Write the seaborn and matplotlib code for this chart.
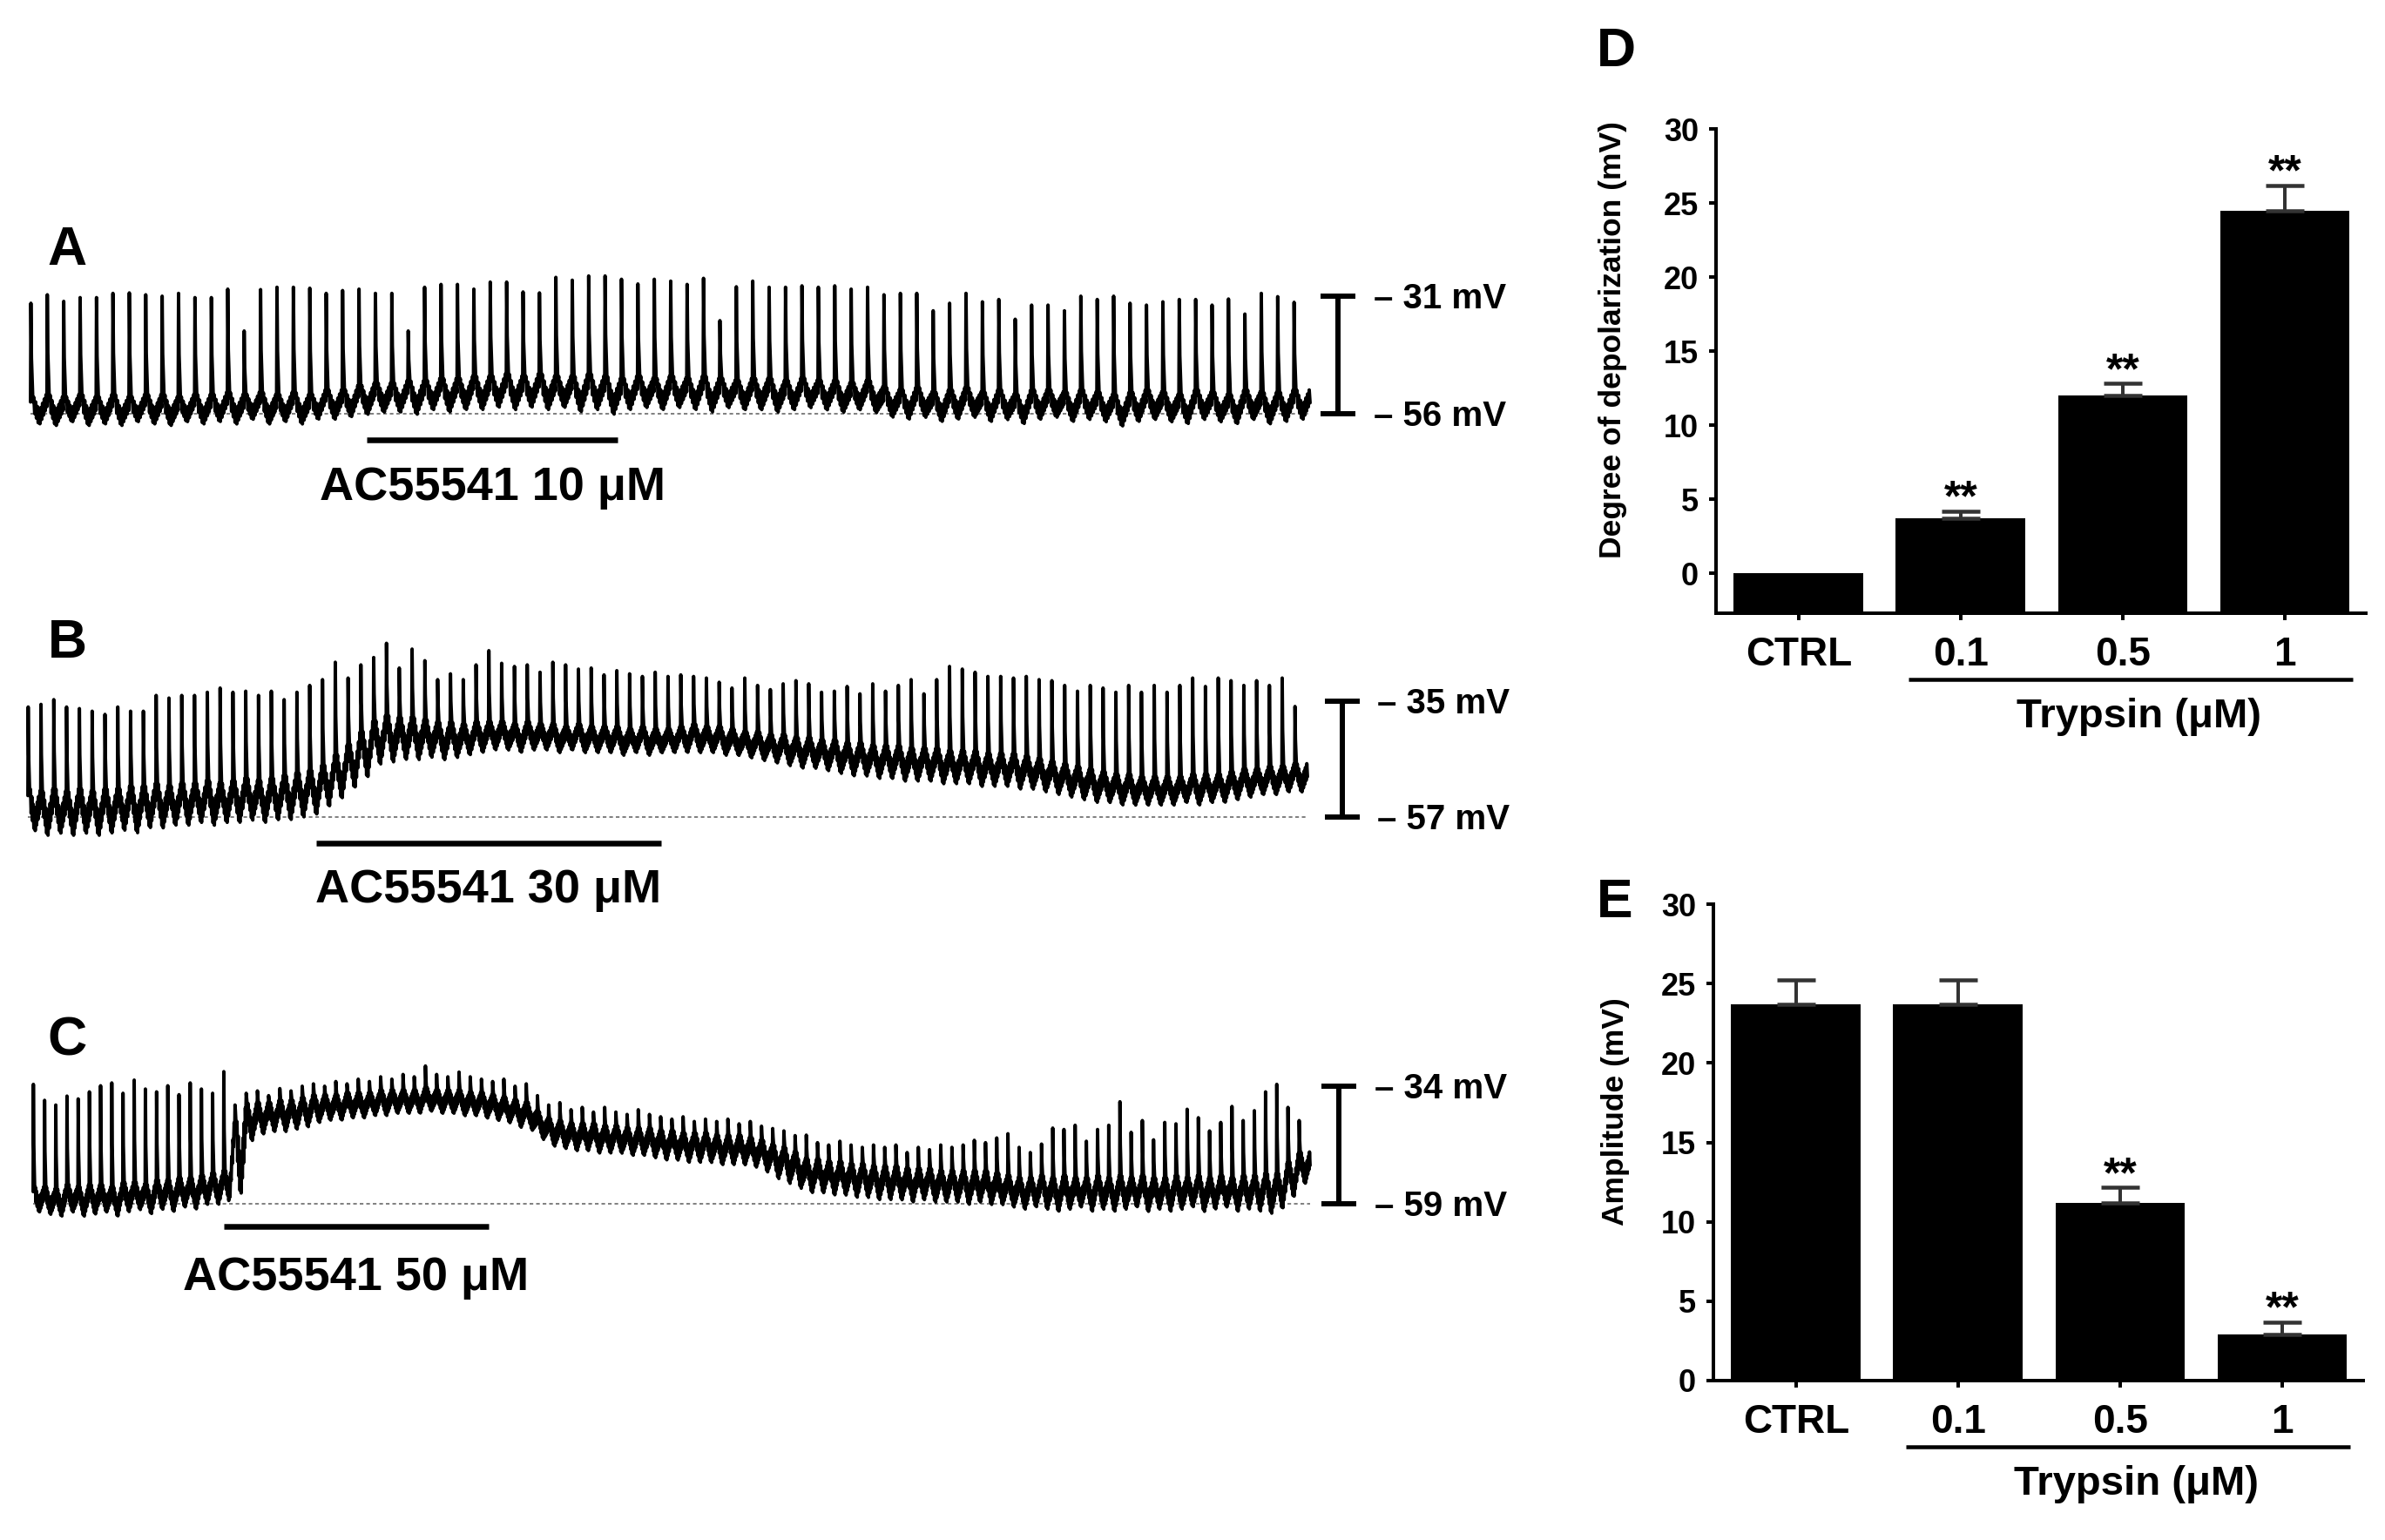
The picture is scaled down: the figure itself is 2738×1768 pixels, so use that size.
import numpy as np
import pandas as pd
import matplotlib
matplotlib.use("Agg")
import matplotlib.pyplot as plt
import seaborn as sns

# ======================= DATA =======================
# Membrane-potential traces, one value per slow-wave cycle (mV):
#   *_peak     : spike peak
#   *_shoulder : level at which the spike takes off / returns
#   *_trough   : most negative level between two spikes
A_peak = [-32.5, -30.7, -32.1, -31.3, -31.3, -30.4, -30.3, -30.7, -31.0, -30.4,
          -31.3, -31.3, -29.5, -38.4, -29.6, -29.1, -29.1, -29.3, -30.4, -29.8,
          -29.5, -30.4, -30.4, -38.4, -29.1, -28.5, -28.5, -29.5, -28.0, -28.0,
          -30.1, -30.3, -27.0, -27.6, -26.7, -26.7, -27.4, -28.4, -27.4, -27.8,
          -28.5, -27.2, -36.2, -29.0, -27.8, -29.1, -29.1, -28.8, -29.1, -28.8,
          -29.5, -29.1,
          -30.7, -30.4, -30.4, -34.1, -32.5, -30.4, -32.2, -31.7, -35.9, -32.9,
          -32.9, -34.1, -31.0, -31.7, -31.0, -32.5, -32.9, -32.2, -31.7, -31.7,
          -32.9, -31.6, -34.8, -30.4, -31.1, -32.3]
A_shoulder = [-52.0, -51.5, -52.0, -51.5, -52.0, -51.5, -52.0, -51.5, -51.5, -52.0,
              -51.5, -51.5, -51.0, -51.5, -51.0, -51.5, -51.0, -51.5, -50.5, -50.5,
              -49.5, -49.0, -49.0, -48.5, -48.5, -48.0, -48.0, -47.5, -47.5, -47.0,
              -47.5, -47.0, -47.5, -47.5, -47.0, -47.5, -48.0, -47.5, -48.0, -47.5,
              -48.0, -47.5, -48.0, -48.5, -48.0, -48.0, -48.5, -48.0, -48.5, -48.5,
              -49.0, -48.5,
              -50.0, -50.5, -50.0, -51.0, -50.5, -50.0, -51.0, -50.5, -51.5, -50.5,
              -50.5, -51.0, -50.5, -51.0, -51.5, -51.0, -50.5, -51.0, -51.5, -50.5,
              -51.0, -51.5, -50.5, -51.0, -51.0, -50.5]
A_trough = [-58.5, -58.8, -58.0, -58.8, -58.5, -58.8, -58.0, -58.5, -58.8, -58.0,
            -58.5, -58.0, -58.5, -57.5, -58.5, -58.0, -58.5, -57.5, -57.5, -57.0,
            -56.5, -56.0, -56.0, -56.5, -55.5, -56.0, -55.5, -55.5, -55.0, -55.5,
            -55.0, -55.5, -55.0, -56.0, -55.5, -56.5, -55.5, -55.0, -55.5, -55.0,
            -55.5, -56.0, -55.0, -55.5, -55.5, -56.0, -55.5, -55.0, -55.5, -56.0,
            -55.5, -56.0,
            -57.0, -57.5, -57.0, -58.0, -57.5, -57.0, -58.0, -57.5, -58.5, -57.5,
            -57.0, -58.0, -57.5, -58.0, -59.0, -58.0, -57.5, -58.0, -58.5, -57.5,
            -58.0, -58.5, -57.5, -58.5, -58.0, -57.5]
A_drug = [20.5, 35.8]          # application window (cycles)
A_scale = [-31, -56]           # scale-bar potentials (mV)
A_label = "AC55541 10 μM"

B_peak = [-36.1, -35.6, -34.7, -36.1, -36.4, -36.9, -37.5, -36.1, -36.9, -36.9,
          -33.9, -34.4, -33.9, -33.9, -33.3, -32.5, -33.3, -33.1, -33.9, -33.1,
          -34.7, -33.3, -32.0, -30.9, -27.6, -30.6, -28.1, -26.7, -24.0, -28.7,
          -25.1, -27.3, -30.9, -29.8, -30.9, -28.1, -25.4, -27.8, -28.4, -28.1,
          -29.5, -27.6, -28.1, -28.9, -28.7, -30.0, -29.2, -29.8, -30.3, -29.5,
          -30.3, -30.0, -30.3, -30.6, -31.4, -32.5, -30.6, -32.0, -32.8, -31.7,
          -31.1, -31.7, -33.3, -33.1, -32.2, -33.6, -31.7, -33.1, -32.0, -30.9,
          -33.6, -30.9, -28.4, -28.9, -29.5, -30.3, -30.3, -30.6, -30.3, -30.9,
          -31.1, -32.0, -33.1, -32.0, -32.5, -33.3, -32.0, -33.3, -32.0, -33.3,
          -32.0, -30.6, -32.2, -30.6, -31.1, -32.0, -31.1, -32.0, -30.6, -36.0]
B_shoulder = [-51.0, -51.5, -51.0, -51.5, -51.0, -51.5, -51.0, -51.0, -50.5, -50.5,
              -50.0, -50.5, -50.0, -50.0, -49.5, -50.0, -49.5, -49.0, -49.5, -49.0,
              -48.5, -48.0, -47.5, -46.5, -44.5, -42.5, -40.0, -38.0, -37.0, -37.5,
              -37.5, -38.0, -38.5, -38.5, -39.0, -38.5, -38.5, -38.5, -39.0, -38.5,
              -39.0, -39.0, -39.5, -39.0, -39.5, -39.5, -39.5, -40.0, -39.5, -40.0,
              -40.0, -39.5, -39.0, -39.5, -39.5, -40.0, -40.5, -40.5, -41.0, -41.0,
              -41.5, -41.5, -42.0, -42.0, -42.5, -42.5, -43.0, -43.0, -43.0, -43.5,
              -43.5, -43.5, -44.0, -44.0, -44.0, -44.5, -44.5, -44.5, -45.0, -45.5,
              -46.0, -46.5, -47.0, -47.5, -48.0, -48.5, -48.5, -49.0, -49.0, -49.0,
              -49.0, -48.5, -48.5, -48.5, -48.0, -47.5, -47.5, -47.0, -47.0, -46.5]
B_trough = [-60.0, -61.0, -60.5, -61.0, -60.5, -61.0, -60.5, -60.0, -60.5, -59.5,
            -59.5, -59.0, -59.0, -58.5, -59.0, -58.5, -58.5, -58.0, -58.5, -58.0,
            -58.0, -57.5, -57.0, -55.5, -54.0, -52.0, -50.0, -47.5, -47.0, -46.5,
            -46.5, -46.0, -46.5, -46.0, -45.5, -45.0, -44.5, -44.5, -45.0, -44.5,
            -44.5, -45.0, -44.5, -45.0, -45.0, -45.0, -45.5, -45.0, -45.5, -45.0,
            -45.0, -45.0, -45.0, -45.0, -45.5, -45.5, -46.0, -46.5, -47.0, -47.5,
            -48.0, -48.0, -48.5, -49.0, -49.5, -49.5, -50.0, -50.0, -50.5, -50.5,
            -50.5, -51.0, -51.0, -51.0, -51.5, -51.5, -51.5, -52.0, -52.0, -52.5,
            -53.0, -53.5, -54.0, -54.5, -54.5, -55.0, -55.0, -55.0, -55.0, -55.0,
            -54.5, -55.0, -54.5, -54.5, -54.0, -53.5, -53.0, -53.0, -52.5, -52.5]
B_drug = [22.5, 49.5]
B_scale = [-35, -57]
B_label = "AC55541 30 μM"

C_peak = [-33.6, -37.0, -38.0, -36.1, -36.7, -35.2, -33.9, -33.3, -35.5, -32.7,
          -34.6, -35.2, -33.9, -35.8, -33.3, -34.6, -35.5, -30.9,
          -38.0, -35.5, -35.0, -36.0, -34.5, -35.0, -34.0, -33.5, -34.0, -33.0, -33.5, -32.5,
          -33.0, -32.0, -32.5, -31.5, -32.0, -29.7, -31.5, -32.0, -31.0, -32.0,
          -32.5, -33.0, -32.5, -34.0, -33.5,
          -36.0, -38.0, -37.5, -39.0, -38.5, -39.5, -38.5, -39.5, -40.0, -39.0, -40.0, -40.5,
          -41.0, -40.5, -41.5, -41.0, -41.5, -41.0, -42.0, -41.5, -42.5, -43.0, -43.5, -44.5,
          -44.4, -46.0, -46.5, -45.7, -46.5, -47.0, -46.5, -47.0, -46.5, -48.1,
          -47.0, -47.5, -46.5, -47.0, -46.5, -45.5, -46.0, -45.0,
          -44.1, -47.0, -48.1, -46.3, -42.9, -43.2, -42.3, -45.7, -43.2, -42.3,
          -37.3, -43.8, -41.3, -45.4, -41.7, -42.0, -38.9, -40.7, -43.5, -41.7,
          -38.3, -41.3, -39.2, -35.2, -33.6, -38.5, -41.3]
C_shoulder = [-55.0, -55.0, -55.5, -54.5, -55.0, -54.5, -54.5, -55.0, -54.0, -54.0,
              -54.5, -53.5, -53.5, -53.0, -53.0, -52.5, -52.0, -51.5,
              -40.0, -37.0, -37.0, -37.0, -36.5, -36.5, -36.0, -35.5, -35.5, -35.5, -35.0, -35.0,
              -35.0, -34.5, -34.5, -34.5, -34.5, -34.0, -34.5, -34.5, -34.5, -35.0,
              -35.0, -35.5, -36.0, -36.5, -37.0,
              -39.0, -40.5, -41.0, -41.5, -41.5, -41.5, -42.0, -42.0, -42.5, -42.5, -42.5, -43.0,
              -43.0, -43.5, -43.5, -43.5, -44.0, -44.0, -44.0, -44.5, -45.0, -46.0, -46.5, -47.5,
              -49.0, -49.0, -49.5, -49.5, -50.0, -50.0, -50.5, -50.5, -50.5, -51.0,
              -51.0, -51.0, -51.5, -51.5, -51.5, -51.5, -51.5, -52.0,
              -52.5, -53.0, -53.0, -52.5, -53.0, -52.5, -53.0, -53.0, -52.5, -53.0,
              -52.5, -53.0, -52.5, -53.0, -53.0, -52.5, -53.0, -52.5, -53.0, -52.5,
              -53.0, -52.5, -52.5, -52.0, -52.0, -49.5, -47.5]
C_trough = [-61.0, -61.5, -62.0, -61.0, -62.0, -61.5, -61.0, -62.0, -61.0, -60.5,
            -61.5, -60.5, -61.0, -60.0, -60.5, -59.5, -59.5, -59.0,
            -58.0, -46.0, -44.5, -44.0, -44.0, -43.5, -43.0, -42.0, -41.5, -41.5, -41.0, -41.0,
            -40.5, -40.5, -40.0, -40.0, -40.0, -39.5, -40.0, -40.0, -40.5, -40.5,
            -41.0, -41.5, -42.0, -43.0, -43.5,
            -45.5, -47.0, -47.5, -48.0, -48.0, -48.5, -48.5, -48.5, -49.0, -49.0, -49.5, -50.0,
            -50.0, -50.5, -50.5, -50.5, -51.0, -51.0, -51.0, -51.5, -52.5, -54.0, -55.0, -56.0,
            -57.0, -57.0, -57.5, -57.5, -58.0, -58.0, -58.5, -58.5, -58.5, -59.0,
            -58.5, -59.0, -59.0, -59.0, -59.5, -59.0, -59.5, -59.5,
            -60.0, -60.5, -60.0, -60.5, -61.0, -60.5, -60.0, -61.0, -60.5, -61.0,
            -60.5, -60.0, -61.0, -60.5, -61.0, -60.5, -60.0, -61.0, -60.5, -60.0,
            -61.0, -60.5, -61.0, -61.5, -60.5, -58.0, -55.0]
C_drug = [17.0, 40.7]
C_scale = [-34, -59]
C_label = "AC55541 50 μM"

# Bar charts (mean and upper SEM, mV)
groups = ["CTRL", "0.1", "0.5", "1"]
D_mean = [0.0, 3.7, 12.0, 24.5]
D_sem = [0.0, 0.5, 0.8, 1.7]
D_sig = ["", "**", "**", "**"]
E_mean = [23.7, 23.7, 11.2, 2.9]
E_sem = [1.55, 1.55, 0.95, 0.8]
E_sig = ["", "", "**", "**"]
D_ylabel = "Degree of depolarization (mV)"
E_ylabel = "Amplitude (mV)"
group_title = "Trypsin (μM)"

# ======================= STYLE / LAYOUT =======================
sns.set_theme(style="white")
plt.rcParams["font.family"] = ["Liberation Sans", "DejaVu Sans"]
plt.rcParams["font.weight"] = "bold"
plt.rcParams["axes.labelweight"] = "bold"
for key in ("text.color", "axes.labelcolor", "xtick.color", "ytick.color", "axes.edgecolor"):
    plt.rcParams[key] = "black"

W, H, DPI = 2738, 1768, 100
PT = 72.0 / DPI           # points per pixel
fig = plt.figure(figsize=(W / DPI, H / DPI), dpi=DPI, facecolor="white")


def fx(px):
    return px / W


def fy(py):
    return 1.0 - py / H


def waveform(peak, shoulder, trough, m=16):
    """Render each cycle: fast spike, then a noisy V between shoulder and trough."""
    n = len(peak)
    t, v = [], []
    for k in range(n):
        p, s, tr = peak[k], shoulder[k], trough[k]
        s_next = shoulder[k + 1] if k + 1 < n else s
        a = 0.17 * (s - tr) + 0.4          # thickness of the noisy band
        t += [k, k + 0.025, k + 0.06, k + 0.15]
        v += [s - a, p, s + 0.4 * (p - s), s - a]
        for j in range(1, m + 1):
            u = j / m
            tt = k + 0.15 + 0.85 * u
            if u <= 0.45:
                c = (s - a) + ((tr + a) - (s - a)) * (u / 0.45)
            else:
                c = (tr + a) + ((s_next - a) - (tr + a)) * ((u - 0.45) / 0.55)
            t.append(tt)
            v.append(c + (a if j % 2 else -a))
    return np.array(t), np.array(v)


TR_RIGHT = 1760
traces = [
    dict(name="A", peak=A_peak, sh=A_shoulder, tr=A_trough, drug=A_drug, scale=A_scale, label=A_label,
         left=35, right=1504, px_top=340, px_bot=475, ax_top=230, ax_bot=620,
         bar_x=1536, lab_x=1577, stim_y=505, text_base=574, letter=(77, 304)),
    dict(name="B", peak=B_peak, sh=B_shoulder, tr=B_trough, drug=B_drug, scale=B_scale, label=B_label,
         left=32, right=1501, px_top=805, px_bot=938, ax_top=690, ax_bot=1080,
         bar_x=1541, lab_x=1581, stim_y=968, text_base=1036, letter=(77, 755)),
    dict(name="C", peak=C_peak, sh=C_shoulder, tr=C_trough, drug=C_drug, scale=C_scale, label=C_label,
         left=38, right=1504, px_top=1247, px_bot=1382, ax_top=1150, ax_bot=1520,
         bar_x=1537, lab_x=1578, stim_y=1408, text_base=1481, letter=(77, 1212)),
]

for T in traces:
    n = len(T["peak"])
    ppc = (T["right"] - T["left"]) / n
    mvpp = (T["scale"][0] - T["scale"][1]) / (T["px_bot"] - T["px_top"])
    x2d = lambda px, T=T, ppc=ppc: (px - T["left"]) / ppc
    y2d = lambda py, T=T, mvpp=mvpp: T["scale"][1] - (py - T["px_bot"]) * mvpp
    ax = fig.add_axes([0, fy(T["ax_bot"]), fx(TR_RIGHT), (T["ax_bot"] - T["ax_top"]) / H])
    ax.set_xlim(x2d(0), x2d(TR_RIGHT))
    ax.set_ylim(y2d(T["ax_bot"]), y2d(T["ax_top"]))
    t, v = waveform(T["peak"], T["sh"], T["tr"])
    sns.lineplot(x=t, y=v, ax=ax, color="black", linewidth=2.8, sort=False,
                 estimator=None, legend=False)
    # resting-level dotted line
    ax.plot([0, n], [T["scale"][1]] * 2, color="#6a6a6a", lw=1.2,
            ls=(0, (2.5, 2.0)), zorder=0)
    # scale bar
    xs = x2d(T["bar_x"])
    cap = 20 / ppc
    ax.plot([xs, xs], T["scale"], color="black", lw=6 * PT, solid_capstyle="butt", clip_on=False)
    for val in T["scale"]:
        ax.plot([xs - cap, xs + cap], [val, val], color="black", lw=6 * PT,
                solid_capstyle="butt", clip_on=False)
        ax.annotate(f"– {abs(val)} mV", xy=(x2d(T["lab_x"]), val),
                    xytext=(0, -0.358 * 29), textcoords="offset points",
                    ha="left", va="baseline", fontsize=29, fontweight="bold",
                    annotation_clip=False)
    # drug application bar + label
    ystim = y2d(T["stim_y"])
    ax.plot(T["drug"], [ystim, ystim], color="black", lw=6.5 * PT,
            solid_capstyle="butt", clip_on=False)
    ax.text(np.mean(T["drug"]), y2d(T["text_base"]), T["label"], ha="center",
            va="baseline", fontsize=39, fontweight="bold")
    ax.axis("off")
    fig.text(fx(T["letter"][0]), fy(T["letter"][1]), T["name"], ha="center",
             va="baseline", fontsize=45, fontweight="bold")


def bar_panel(rect_px, means, sems, sigs, ylabel, ybottom, letter, letter_pos, label_x):
    l, r, t, b = rect_px
    ax = fig.add_axes([fx(l), fy(b), (r - l) / W, (b - t) / H])
    df = pd.DataFrame({"group": groups, "value": means})
    sns.barplot(data=df, x="group", y="value", order=groups, color="black",
                saturation=1, width=0.8, errorbar=None, ax=ax, linewidth=0)
    ax.set_xlim(-0.51, 3.5)
    ax.set_ylim(ybottom, 30)
    # bars start from the axis baseline (GraphPad style)
    for p in ax.patches:
        top = p.get_y() + p.get_height()
        p.set_y(ybottom)
        p.set_height(top - ybottom)
    idx = [i for i, s in enumerate(sems) if s > 0]
    ax.errorbar(idx, [means[i] for i in idx],
                yerr=[[0] * len(idx), [sems[i] for i in idx]],
                fmt="none", ecolor="#333333", elinewidth=4 * PT,
                capsize=22 * PT, capthick=4.5 * PT, zorder=3)
    for i, s in enumerate(sigs):
        if s:
            ax.annotate(s, xy=(i, means[i] + sems[i]), xytext=(0, 0),
                        textcoords="offset points", ha="center", va="baseline",
                        fontsize=36, fontweight="bold")
    sns.despine(ax=ax)
    for sp in ("left", "bottom"):
        ax.spines[sp].set_linewidth(4 * PT)
        ax.spines[sp].set_color("black")
    ax.set_yticks(range(0, 31, 5))
    ax.tick_params(axis="y", left=True, length=8 * PT, width=4 * PT,
                   labelsize=26, pad=12 * PT, colors="black")
    ax.tick_params(axis="x", bottom=True, length=8 * PT, width=4 * PT,
                   labelsize=33, pad=18 * PT, colors="black")
    for lab in ax.get_xticklabels() + ax.get_yticklabels():
        lab.set_fontweight("bold")
    ax.set_xlabel("")
    ax.set_ylabel(ylabel, fontsize=25.5, fontweight="bold", color="black")
    ax.yaxis.set_label_coords(label_x, 0.565)
    ax.set_facecolor("white")
    # Trypsin group line and title
    h = b - t
    ax.plot([0.68, 3.42], [-76 / h] * 2, transform=ax.get_xaxis_transform(),
            color="black", lw=4.5 * PT, clip_on=False, solid_capstyle="butt")
    ax.text(2.1, -131 / h, group_title, transform=ax.get_xaxis_transform(),
            ha="center", va="baseline", fontsize=34, fontweight="bold")
    fig.text(fx(letter_pos[0]), fy(letter_pos[1]), letter, ha="center",
             va="baseline", fontsize=45, fontweight="bold")
    return ax


bar_panel((1970, 2716, 148, 704), D_mean, D_sem, D_sig, D_ylabel, -2.7, "D", (1855, 76), -0.137)
bar_panel((1967, 2713, 1038, 1585), E_mean, E_sem, E_sig, E_ylabel, 0.0, "E", (1854, 1053), -0.129)

fig.savefig("out.png", dpi=DPI, facecolor="white")
